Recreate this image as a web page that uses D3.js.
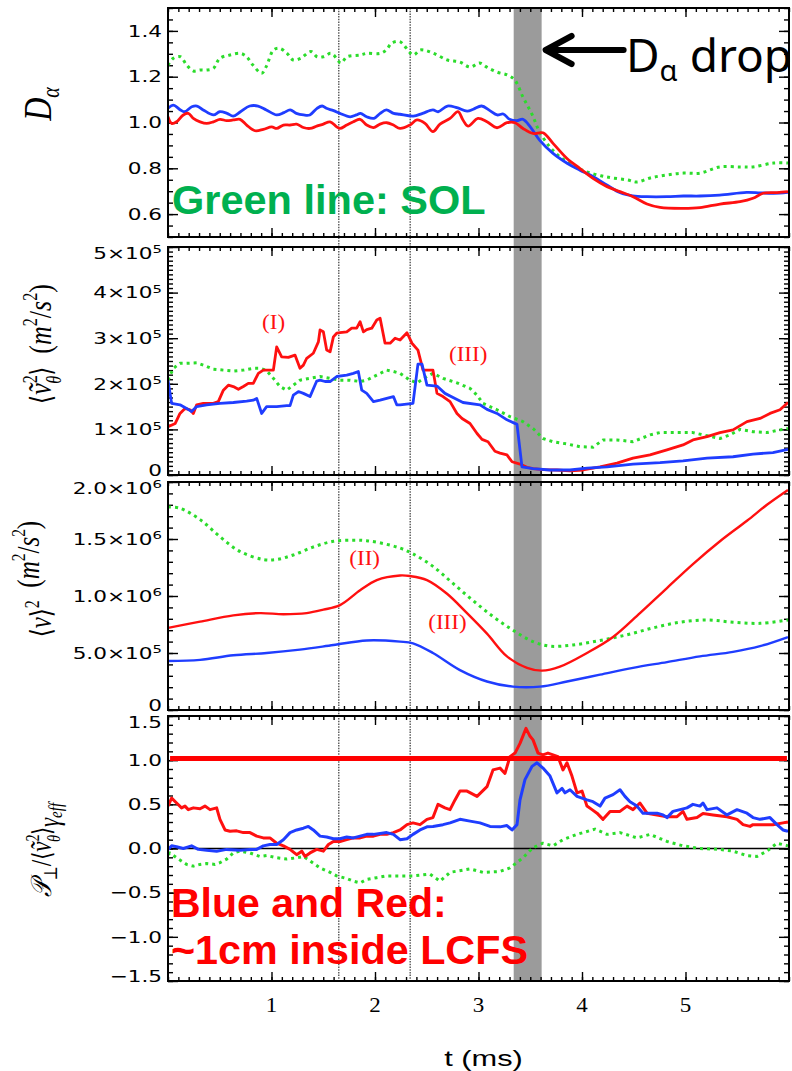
<!DOCTYPE html>
<html>
<head>
<meta charset="utf-8">
<script src="https://cdn.jsdelivr.net/npm/d3@7"></script>
<style>
  body { margin: 0; background: #fff; }
  svg { display: block; }
</style>
</head>
<body>
<svg id="chart" width="792" height="1071"></svg>
<script>
// ---------- time axis ----------
const xTickLabels = [1, 2, 3, 4, 5];
const markerTimes = [1.65, 2.34];      // dotted vertical guides (ms)
const dropBand = [3.34, 3.61];         // D-alpha drop interval (ms)

// ---------- panel 1: D_alpha ----------
const daTicks = [0.6, 0.8, 1.0, 1.2, 1.4];
const daGreen = [[0,1.25],[0.05,1.28],[0.12,1.287],[0.18,1.251],[0.245,1.225],[0.31,1.229],[0.37,1.229],[0.44,1.237],[0.50,1.28],[0.60,1.295],[0.70,1.302],[0.76,1.287],[0.82,1.251],[0.905,1.215],[0.95,1.245],[1.02,1.317],[1.08,1.324],[1.15,1.302],[1.21,1.273],[1.28,1.28],[1.38,1.31],[1.44,1.287],[1.50,1.287],[1.57,1.302],[1.60,1.295],[1.67,1.26],[1.73,1.287],[1.86,1.295],[1.92,1.302],[2.05,1.302],[2.11,1.317],[2.16,1.346],[2.24,1.353],[2.37,1.295],[2.44,1.317],[2.56,1.303],[2.70,1.273],[2.82,1.264],[2.92,1.242],[3.01,1.26],[3.08,1.242],[3.18,1.22],[3.28,1.207],[3.35,1.186],[3.43,1.111],[3.52,1.033],[3.59,0.959],[3.69,0.893],[3.79,0.849],[3.91,0.814],[4.05,0.784],[4.24,0.762],[4.44,0.749],[4.53,0.74],[4.66,0.758],[4.82,0.771],[4.98,0.779],[5.14,0.779],[5.33,0.806],[5.53,0.806],[5.65,0.806],[5.85,0.823],[5.99,0.823]];
const daBlue = [[0,1.062],[0.05,1.076],[0.12,1.055],[0.16,1.047],[0.23,1.069],[0.28,1.072],[0.34,1.055],[0.44,1.033],[0.50,1.047],[0.57,1.04],[0.63,1.028],[0.70,1.047],[0.79,1.072],[0.87,1.072],[0.95,1.055],[1.05,1.033],[1.12,1.043],[1.18,1.055],[1.24,1.04],[1.31,1.033],[1.37,1.033],[1.44,1.062],[1.49,1.072],[1.53,1.062],[1.60,1.052],[1.66,1.04],[1.76,1.025],[1.82,1.033],[1.86,1.04],[1.92,1.025],[1.99,1.018],[2.05,1.04],[2.11,1.055],[2.18,1.04],[2.24,1.036],[2.37,1.028],[2.46,1.04],[2.56,1.055],[2.61,1.047],[2.70,1.072],[2.79,1.065],[2.89,1.05],[2.95,1.058],[3.03,1.072],[3.11,1.052],[3.18,1.033],[3.24,1.037],[3.30,1.014],[3.37,1.008],[3.43,1.014],[3.50,0.981],[3.59,0.923],[3.72,0.865],[3.86,0.821],[3.98,0.792],[4.11,0.763],[4.24,0.727],[4.37,0.693],[4.49,0.68],[4.63,0.676],[4.82,0.676],[4.98,0.679],[5.14,0.679],[5.33,0.683],[5.59,0.695],[5.72,0.693],[5.85,0.691],[5.99,0.695]];
const daRed = [[0,1.025],[0.035,0.996],[0.083,1.003],[0.148,1.033],[0.196,1.04],[0.245,1.018],[0.31,1.003],[0.374,0.996],[0.438,1.003],[0.502,1.014],[0.567,1.008],[0.631,1.011],[0.696,1.014],[0.76,0.989],[0.841,0.964],[0.921,0.97],[1.002,0.981],[1.05,0.974],[1.115,0.989],[1.179,0.989],[1.243,0.993],[1.308,0.978],[1.372,0.974],[1.437,0.984],[1.501,0.993],[1.566,1.003],[1.63,0.981],[1.662,0.974],[1.727,0.989],[1.791,1.003],[1.856,1.014],[1.92,0.989],[1.985,0.978],[2.049,0.993],[2.113,0.999],[2.178,0.989],[2.242,0.974],[2.338,0.989],[2.406,1.011],[2.483,0.996],[2.56,0.96],[2.628,0.993],[2.725,1.018],[2.802,1.047],[2.85,1.011],[2.899,0.984],[2.995,1.018],[3.082,1.003],[3.179,0.977],[3.275,0.999],[3.353,0.999],[3.43,0.974],[3.527,0.952],[3.623,0.955],[3.72,0.909],[3.855,0.843],[3.981,0.799],[4.106,0.756],[4.242,0.72],[4.367,0.698],[4.493,0.676],[4.628,0.644],[4.754,0.629],[4.976,0.625],[5.14,0.628],[5.333,0.644],[5.527,0.654],[5.652,0.669],[5.749,0.691],[5.884,0.694],[5.99,0.698]];

// ---------- panel 2: <v_theta~^2>, in units of 1e5 m^2/s^2 ----------
const vtTicks = [0, 1, 2, 3, 4, 5];
const vtRed = [[0,1.06],[0.07,1.13],[0.116,1.35],[0.164,1.46],[0.213,1.43],[0.245,1.35],[0.277,1.54],[0.341,1.57],[0.438,1.57],[0.486,1.61],[0.535,1.86],[0.583,1.97],[0.631,1.94],[0.68,1.88],[0.728,1.94],[0.776,2.01],[0.824,2.01],[0.873,2.23],[0.921,2.30],[0.985,2.30],[1.018,2.30],[1.05,2.81],[1.098,2.59],[1.163,2.58],[1.227,2.63],[1.275,2.34],[1.308,2.41],[1.34,2.56],[1.404,2.67],[1.453,2.92],[1.469,3.18],[1.501,3.14],[1.533,2.74],[1.566,2.70],[1.598,3.03],[1.63,3.11],[1.662,3.12],[1.727,3.14],[1.775,3.22],[1.823,3.22],[1.856,3.36],[1.888,3.14],[1.92,3.19],[1.969,3.22],[2.017,3.40],[2.049,3.44],[2.097,2.89],[2.146,2.89],[2.194,3.0],[2.242,2.96],[2.309,3.12],[2.357,2.89],[2.415,2.74],[2.464,2.30],[2.56,2.30],[2.599,1.79],[2.657,1.72],[2.725,1.61],[2.792,1.35],[2.841,1.24],[2.918,1.13],[2.986,0.91],[3.034,0.78],[3.092,0.73],[3.159,0.52],[3.208,0.48],[3.275,0.44],[3.324,0.29],[3.401,0.24],[3.469,0.17],[3.527,0.14],[3.623,0.12],[3.758,0.11],[3.884,0.09],[4.01,0.11],[4.174,0.18],[4.338,0.26],[4.493,0.37],[4.657,0.44],[4.821,0.55],[4.976,0.66],[5.072,0.77],[5.208,0.84],[5.333,0.93],[5.459,0.99],[5.594,1.17],[5.72,1.24],[5.816,1.35],[5.913,1.43],[5.99,1.59]];
const vtBlue = [[0,2.08],[0.035,1.57],[0.116,1.54],[0.18,1.46],[0.228,1.39],[0.277,1.50],[0.374,1.54],[0.502,1.57],[0.631,1.59],[0.76,1.62],[0.824,1.64],[0.857,1.68],[0.905,1.35],[0.953,1.50],[1.05,1.50],[1.147,1.52],[1.179,1.52],[1.211,1.75],[1.26,1.83],[1.308,1.79],[1.372,1.72],[1.437,2.06],[1.469,2.08],[1.517,2.05],[1.566,2.05],[1.63,2.16],[1.727,2.19],[1.791,2.23],[1.839,2.27],[1.872,1.86],[1.92,1.79],[1.985,1.61],[2.049,1.64],[2.113,1.68],[2.178,1.72],[2.21,1.54],[2.242,1.54],[2.367,1.57],[2.415,2.43],[2.454,2.43],[2.502,1.97],[2.599,1.95],[2.676,1.79],[2.773,1.68],[2.85,1.59],[3.014,1.54],[3.082,1.44],[3.179,1.35],[3.275,1.21],[3.372,1.11],[3.42,0.18],[3.527,0.14],[3.691,0.11],[3.884,0.11],[4.048,0.15],[4.242,0.18],[4.493,0.24],[4.754,0.27],[4.976,0.31],[5.208,0.37],[5.459,0.40],[5.652,0.46],[5.845,0.49],[5.99,0.56]];
const vtGreen = [[0,2.08],[0.051,2.34],[0.116,2.45],[0.18,2.45],[0.277,2.46],[0.341,2.41],[0.438,2.32],[0.535,2.30],[0.631,2.28],[0.728,2.30],[0.824,2.34],[0.889,2.34],[0.953,2.29],[1.018,2.12],[1.082,1.94],[1.147,1.86],[1.211,1.97],[1.275,2.08],[1.372,2.12],[1.469,2.16],[1.566,2.12],[1.662,2.08],[1.759,2.08],[1.856,2.05],[1.92,2.08],[2.017,2.19],[2.113,2.30],[2.178,2.27],[2.242,2.23],[2.338,2.08],[2.406,2.02],[2.502,2.16],[2.56,2.23],[2.657,2.12],[2.792,2.02],[2.918,1.90],[2.986,1.75],[3.043,1.57],[3.179,1.43],[3.304,1.28],[3.43,1.17],[3.527,1.02],[3.623,0.80],[3.72,0.73],[3.855,0.68],[3.981,0.62],[4.106,0.61],[4.203,0.77],[4.338,0.77],[4.493,0.73],[4.657,0.88],[4.754,0.93],[4.976,0.93],[5.072,0.93],[5.208,0.86],[5.333,0.80],[5.43,0.88],[5.527,1.0],[5.652,0.95],[5.787,0.93],[5.913,0.99],[5.99,1.02]];

// ---------- panel 3: <v>^2, in units of 1e6 m^2/s^2 ----------
const v2Ticks = [0, 0.5, 1.0, 1.5, 2.0];
const v2TickLabels = ["0", "5.0×10|5", "1.0×10|6", "1.5×10|6", "2.0×10|6"];
const v2Green = [[0,1.78],[0.116,1.77],[0.31,1.67],[0.502,1.52],[0.696,1.39],[0.921,1.32],[1.05,1.32],[1.211,1.36],[1.404,1.43],[1.598,1.48],[1.791,1.49],[1.92,1.485],[2.081,1.46],[2.242,1.42],[2.367,1.37],[2.56,1.26],[2.754,1.11],[2.947,0.96],[3.14,0.82],[3.333,0.70],[3.527,0.60],[3.691,0.56],[3.913,0.57],[4.174,0.61],[4.435,0.66],[4.686,0.72],[4.947,0.77],[5.208,0.79],[5.459,0.77],[5.72,0.76],[5.99,0.79]];
const v2Red = [[0,0.72],[0.31,0.775],[0.631,0.83],[0.889,0.85],[1.115,0.84],[1.34,0.85],[1.501,0.88],[1.662,0.92],[1.856,1.05],[2.017,1.14],[2.242,1.18],[2.338,1.175],[2.502,1.14],[2.696,1.02],[2.889,0.85],[3.082,0.67],[3.275,0.47],[3.469,0.37],[3.614,0.345],[3.787,0.38],[4.048,0.50],[4.3,0.64],[4.56,0.85],[4.821,1.07],[5.072,1.28],[5.333,1.48],[5.594,1.66],[5.787,1.80],[5.99,1.93]];
const v2Blue = [[0,0.43],[0.31,0.44],[0.631,0.48],[0.953,0.50],[1.275,0.53],[1.598,0.57],[1.92,0.61],[2.242,0.60],[2.367,0.585],[2.56,0.50],[2.821,0.35],[3.082,0.25],[3.333,0.205],[3.594,0.205],[3.855,0.25],[4.174,0.31],[4.493,0.37],[4.821,0.42],[5.14,0.47],[5.459,0.51],[5.72,0.56],[5.99,0.64]];

// ---------- panel 4: P_perp / (<v_theta~^2> gamma_eff) ----------
const ppTicks = [-1.5, -1.0, -0.5, 0.0, 0.5, 1.0, 1.5];
const ppThreshold = 1.02;
const ppRed = [[0,0.48],[0.035,0.57],[0.083,0.515],[0.131,0.46],[0.164,0.48],[0.196,0.44],[0.245,0.46],[0.31,0.45],[0.357,0.48],[0.406,0.44],[0.47,0.46],[0.502,0.33],[0.551,0.21],[0.599,0.195],[0.663,0.20],[0.728,0.18],[0.792,0.18],[0.857,0.14],[0.921,0.12],[0.985,0.12],[1.05,0.06],[1.115,0.03],[1.179,-0.01],[1.243,-0.07],[1.292,-0.03],[1.324,-0.09],[1.372,-0.05],[1.437,-0.01],[1.501,-0.03],[1.55,0.045],[1.598,0.08],[1.662,0.08],[1.727,0.10],[1.791,0.12],[1.856,0.12],[1.92,0.14],[1.985,0.14],[2.049,0.16],[2.113,0.16],[2.178,0.18],[2.242,0.21],[2.309,0.27],[2.367,0.29],[2.435,0.27],[2.502,0.33],[2.56,0.35],[2.609,0.50],[2.676,0.46],[2.725,0.44],[2.773,0.55],[2.821,0.65],[2.889,0.65],[2.986,0.59],[3.082,0.70],[3.14,0.89],[3.208,0.91],[3.256,0.85],[3.304,1.04],[3.353,1.08],[3.401,1.19],[3.459,1.36],[3.498,1.27],[3.527,1.23],[3.575,1.08],[3.623,1.06],[3.671,1.08],[3.72,1.06],[3.768,1.04],[3.816,0.89],[3.855,0.97],[3.903,0.82],[3.952,0.63],[4.0,0.65],[4.048,0.48],[4.097,0.44],[4.145,0.40],[4.203,0.33],[4.271,0.42],[4.367,0.42],[4.435,0.48],[4.493,0.44],[4.56,0.515],[4.628,0.40],[4.725,0.38],[4.821,0.36],[4.918,0.36],[4.976,0.42],[5.014,0.33],[5.111,0.35],[5.169,0.395],[5.266,0.38],[5.401,0.36],[5.498,0.33],[5.556,0.27],[5.623,0.25],[5.652,0.27],[5.749,0.27],[5.845,0.27],[5.942,0.29],[5.99,0.30]];
const ppBlue = [[0,-0.01],[0.035,0.03],[0.083,0.02],[0.148,0],[0.228,0.03],[0.293,-0.01],[0.374,-0.02],[0.47,-0.03],[0.567,-0.01],[0.696,-0.02],[0.792,-0.01],[0.857,-0.01],[0.921,0.03],[0.985,0.045],[1.05,0.045],[1.115,0.10],[1.179,0.18],[1.243,0.21],[1.308,0.23],[1.356,0.25],[1.404,0.21],[1.469,0.14],[1.533,0.13],[1.598,0.11],[1.662,0.11],[1.727,0.13],[1.791,0.12],[1.856,0.14],[1.92,0.16],[1.985,0.16],[2.049,0.17],[2.113,0.18],[2.178,0.16],[2.242,0.10],[2.309,0.11],[2.367,0.16],[2.435,0.21],[2.502,0.245],[2.56,0.25],[2.657,0.27],[2.725,0.29],[2.821,0.33],[2.918,0.31],[3.014,0.29],[3.111,0.25],[3.208,0.245],[3.275,0.26],[3.324,0.21],[3.372,0.27],[3.401,0.55],[3.449,0.78],[3.517,0.93],[3.565,0.97],[3.623,0.91],[3.691,0.82],[3.758,0.63],[3.807,0.68],[3.836,0.63],[3.884,0.665],[3.952,0.59],[4.048,0.55],[4.106,0.53],[4.174,0.48],[4.222,0.57],[4.3,0.61],[4.367,0.665],[4.415,0.59],[4.464,0.53],[4.531,0.48],[4.589,0.40],[4.725,0.40],[4.783,0.38],[4.821,0.35],[4.879,0.42],[4.947,0.44],[5.014,0.46],[5.072,0.50],[5.14,0.48],[5.169,0.515],[5.208,0.44],[5.304,0.46],[5.401,0.38],[5.498,0.44],[5.594,0.40],[5.652,0.35],[5.72,0.33],[5.816,0.35],[5.884,0.27],[5.942,0.21],[5.99,0.195]];
const ppGreen = [[0,-0.07],[0.018,-0.05],[0.083,-0.105],[0.18,-0.18],[0.245,-0.20],[0.31,-0.18],[0.374,-0.17],[0.454,-0.18],[0.502,-0.16],[0.567,-0.12],[0.631,-0.05],[0.696,-0.03],[0.792,-0.05],[0.889,-0.09],[0.953,-0.08],[1.05,-0.105],[1.147,-0.12],[1.243,-0.105],[1.308,-0.09],[1.372,-0.14],[1.469,-0.22],[1.566,-0.27],[1.63,-0.31],[1.727,-0.34],[1.791,-0.37],[1.856,-0.39],[1.92,-0.35],[2.017,-0.33],[2.113,-0.31],[2.242,-0.31],[2.367,-0.31],[2.531,-0.29],[2.628,-0.37],[2.725,-0.27],[2.918,-0.23],[3.043,-0.27],[3.208,-0.26],[3.304,-0.22],[3.43,-0.105],[3.527,0.01],[3.623,0.06],[3.72,0.03],[3.816,0.10],[3.952,0.16],[4.126,0.22],[4.242,0.16],[4.367,0.18],[4.531,0.12],[4.657,0.16],[4.821,0.08],[4.976,0.03],[5.14,0.0],[5.333,-0.01],[5.459,-0.03],[5.594,-0.08],[5.691,-0.09],[5.787,-0.03],[5.884,0.06],[5.99,0.03]];

// ---------- drawing ----------
const RED = "#ff1010", BLUE = "#1f3dff", GREEN = "#2bdc2b";
const svg = d3.select("#chart");
const x = d3.scaleLinear().domain([0, 6]).range([168, 789]);
const XL = x.range()[0], XR = x.range()[1];
const SX = 1.35;                      // horizontal stretch of the axis lettering

const panels = [
  { top: 8,   bottom: 237, domain: [0.5, 1.5], ticks: daTicks, minor: 0.05,
    labels: daTicks.map(d => d.toFixed(1)),
    series: [[daGreen, GREEN, true], [daBlue, BLUE], [daRed, RED]], curve: d3.curveCatmullRom, width: 2.8 },
  { top: 247, bottom: 475, domain: [0, 5], ticks: vtTicks, minor: 0.1,
    labels: vtTicks.map(d => d === 0 ? "0" : d + "×10|5"),
    series: [[vtGreen, GREEN, true], [vtRed, RED], [vtBlue, BLUE]], curve: d3.curveLinear, width: 2.8 },
  { top: 482, bottom: 710, domain: [0, 2], ticks: v2Ticks, minor: 0.1,
    labels: v2TickLabels,
    series: [[v2Green, GREEN, true], [v2Red, RED], [v2Blue, BLUE]], curve: d3.curveCatmullRom, width: 2.4 },
  { top: 716, bottom: 981, domain: [-1.5, 1.5], ticks: ppTicks, minor: 0.1,
    labels: ppTicks.map(d => (d < 0 ? "\u2212" + Math.abs(d).toFixed(1) : d.toFixed(1))),
    series: [[ppGreen, GREEN, true], [ppRed, RED], [ppBlue, BLUE]], curve: d3.curveLinear, width: 3 }
];
panels.forEach(p => { p.y = d3.scaleLinear().domain(p.domain).range([p.bottom, p.top]); });

// drop interval band and dotted time guides (behind everything)
svg.append("rect")
  .attr("x", x(dropBand[0])).attr("width", x(dropBand[1]) - x(dropBand[0]))
  .attr("y", panels[0].top).attr("height", panels[3].bottom - panels[0].top)
  .attr("fill", "#9b9b9b");
svg.selectAll("line.guide").data(markerTimes).join("line")
  .attr("class", "guide")
  .attr("x1", d => x(d)).attr("x2", d => x(d))
  .attr("y1", panels[0].top).attr("y2", panels[3].bottom)
  .attr("stroke", "#555").attr("stroke-width", 1.4).attr("stroke-dasharray", "1.5,1.2");

const xMinor = d3.range(0, 6.001, 0.1).map(v => +v.toFixed(2));

panels.forEach((p, i) => {
  const g = svg.append("g");
  const clipId = "clip" + i;
  svg.append("clipPath").attr("id", clipId).append("rect")
    .attr("x", XL).attr("y", p.top).attr("width", XR - XL).attr("height", p.bottom - p.top);

  // ticks on all four sides, pointing inward
  const yMinor = d3.range(p.domain[0], p.domain[1] + 1e-9, p.minor).map(v => +v.toFixed(3));
  const tickStyle = sel => { sel.select(".domain").remove(); sel.selectAll("line").attr("stroke", "#000").attr("stroke-width", 1.4); };
  g.append("g").attr("transform", `translate(${XL},0)`).call(d3.axisLeft(p.y).tickValues(yMinor).tickSize(-5).tickFormat("")).call(tickStyle);
  g.append("g").attr("transform", `translate(${XL},0)`).call(d3.axisLeft(p.y).tickValues(p.ticks).tickSize(-10).tickFormat("")).call(tickStyle);
  g.append("g").attr("transform", `translate(${XR},0)`).call(d3.axisRight(p.y).tickValues(yMinor).tickSize(-5).tickFormat("")).call(tickStyle);
  g.append("g").attr("transform", `translate(${XR},0)`).call(d3.axisRight(p.y).tickValues(p.ticks).tickSize(-10).tickFormat("")).call(tickStyle);
  g.append("g").attr("transform", `translate(0,${p.bottom})`).call(d3.axisBottom(x).tickValues(xMinor).tickSize(-4).tickFormat("")).call(tickStyle);
  g.append("g").attr("transform", `translate(0,${p.bottom})`).call(d3.axisBottom(x).tickValues(xTickLabels).tickSize(-9).tickFormat("")).call(tickStyle);
  g.append("g").attr("transform", `translate(0,${p.top})`).call(d3.axisTop(x).tickValues(xMinor).tickSize(-4).tickFormat("")).call(tickStyle);
  g.append("g").attr("transform", `translate(0,${p.top})`).call(d3.axisTop(x).tickValues(xTickLabels).tickSize(-9).tickFormat("")).call(tickStyle);

  // y tick labels; end labels are nudged inside the frame
  p.ticks.forEach((v, k) => {
    let yy = p.y(v);
    if (Math.abs(yy - p.top) < 2) yy += 6;
    if (Math.abs(yy - p.bottom) < 2) yy -= 5;
    const parts = p.labels[k].split("|");
    const t = svg.append("text")
      .attr("transform", `translate(${XL - 6},${yy}) scale(${SX},1)`)
      .attr("text-anchor", "end").attr("dy", "0.36em")
      .attr("font-family", "DejaVu Sans").attr("font-size", 16).attr("fill", "#000");
    t.append("tspan").text(parts[0]);
    if (parts[1]) t.append("tspan").attr("dy", "-0.5em").attr("font-size", 11).text(parts[1]);
  });

  // zero reference in the last panel
  if (i === 3) {
    g.append("line").attr("x1", XL).attr("x2", XR).attr("y1", p.y(0)).attr("y2", p.y(0))
      .attr("stroke", "#000").attr("stroke-width", 1.6);
  }

  const lines = g.append("g").attr("clip-path", `url(#${clipId})`);
  const line = d3.line().x(d => x(d[0])).y(d => p.y(d[1])).curve(p.curve);
  p.series.forEach(([data, color, dotted]) => {
    lines.append("path").datum(data).attr("d", line)
      .attr("fill", "none").attr("stroke", color)
      .attr("stroke-width", dotted ? 3 : p.width)
      .attr("stroke-dasharray", dotted ? "3,4" : null)
      .attr("stroke-linejoin", "round");
  });
  if (i === 3) {
    lines.append("line").datum(ppThreshold)
      .attr("x1", x(0.02)).attr("x2", x(5.98)).attr("y1", d => p.y(d)).attr("y2", d => p.y(d))
      .attr("stroke", "#ff0000").attr("stroke-width", 5);
  }

  // frame
  g.append("rect").attr("x", XL).attr("y", p.top).attr("width", XR - XL).attr("height", p.bottom - p.top)
    .attr("fill", "none").attr("stroke", "#000").attr("stroke-width", 2);
});

// x tick labels and title
const pB = panels[3];
svg.selectAll("text.xt").data(xTickLabels).join("text")
  .attr("class", "xt")
  .attr("transform", d => `translate(${x(d)},${pB.bottom + 31}) scale(1.15,1)`)
  .attr("text-anchor", "middle").attr("font-family", "Liberation Serif").attr("font-size", 20)
  .text(d => d);
svg.append("text")
  .attr("transform", `translate(${x(3) + 5},1066) scale(1.4,1)`)
  .attr("text-anchor", "middle").attr("font-family", "Liberation Sans").attr("font-size", 22)
  .text("t (ms)");

// y-axis titles
function yTitle(cy, size, build) {
  const t = svg.append("text")
    .attr("transform", `translate(51,${cy}) scale(1.25,1) rotate(-90)`)
    .attr("text-anchor", "middle")
    .attr("font-family", "Liberation Serif, DejaVu Serif").attr("font-size", size).attr("fill", "#000");
  build(t);
}
yTitle(104, 32, t => {
  t.append("tspan").attr("font-style", "italic").text("D");
  t.append("tspan").attr("font-style", "italic").attr("font-size", 20).attr("dy", 6).text("α");
});
function vTheta(t, s) {
  t.append("tspan").attr("font-family", "DejaVu Serif").attr("font-size", s * 0.9).text("⟨");
  t.append("tspan").attr("font-style", "italic").text("v\u0303");
  t.append("tspan").attr("font-size", s * 0.62).attr("dy", -s * 0.42).text("2");
  t.append("tspan").attr("font-style", "italic").attr("font-size", s * 0.62).attr("dx", -s * 0.33).attr("dy", s * 0.72).text("θ");
  t.append("tspan").attr("font-family", "DejaVu Serif").attr("font-size", s * 0.9).attr("dy", -s * 0.3).text("⟩");
}
function units(t, s) {
  t.append("tspan").text("\u2002(");
  t.append("tspan").attr("font-style", "italic").text("m");
  t.append("tspan").attr("font-size", s * 0.62).attr("dy", -s * 0.42).text("2");
  t.append("tspan").attr("dy", s * 0.42).text("/");
  t.append("tspan").attr("font-style", "italic").text("s");
  t.append("tspan").attr("font-size", s * 0.62).attr("dy", -s * 0.42).text("2");
  t.append("tspan").attr("dy", s * 0.42).text(")");
}
yTitle(344, 26, t => { vTheta(t, 26); units(t, 26); });
yTitle(579, 25, t => {
  t.append("tspan").attr("font-family", "DejaVu Serif").attr("font-size", 23).text("⟨");
  t.append("tspan").attr("font-style", "italic").text("v");
  t.append("tspan").attr("font-family", "DejaVu Serif").attr("font-size", 23).text("⟩");
  t.append("tspan").attr("font-size", 16).attr("dy", -10).text("2");
  t.append("tspan").attr("dy", 10).text("");
  units(t, 25);
});
yTitle(850, 23, t => {
  t.append("tspan").attr("font-family", "DejaVu Sans, DejaVu Serif").attr("font-style", "italic").text("𝒫");
  t.append("tspan").attr("font-size", 15).attr("dy", 5).text("⊥");
  t.append("tspan").attr("dy", -5).text("/");
  vTheta(t, 23);
  t.append("tspan").attr("font-style", "italic").attr("dy", 6).text("γ");
  t.append("tspan").attr("font-style", "italic").attr("font-size", 15).attr("dy", 3).text("eff");
});

// curve-phase markers
const phase = [
  { t: 1.02, y: panels[1].y(3.2), s: "(I)" },
  { t: 2.9,  y: panels[1].y(2.5), s: "(III)" },
  { t: 1.9,  y: panels[2].y(1.27), s: "(II)" },
  { t: 2.7,  y: panels[2].y(0.71), s: "(III)" }
];
svg.selectAll("text.phase").data(phase).join("text")
  .attr("class", "phase")
  .attr("transform", d => `translate(${x(d.t)},${d.y}) scale(1.15,1)`)
  .attr("text-anchor", "middle").attr("font-family", "Liberation Serif").attr("font-size", 20)
  .attr("fill", "#ff1010").text(d => d.s);

// annotations
svg.append("text").attr("x", 172).attr("y", 214)
  .attr("font-family", "Liberation Sans").attr("font-weight", 700).attr("font-size", 41.5)
  .attr("fill", "#00b04f").text("Green line: SOL");
svg.append("text").attr("x", 171).attr("y", 917)
  .attr("font-family", "Liberation Sans").attr("font-weight", 700).attr("font-size", 41)
  .attr("fill", "#ff0000").text("Blue and Red:");
svg.append("text").attr("x", 171).attr("y", 964)
  .attr("font-family", "Liberation Sans").attr("font-weight", 700).attr("font-size", 41)
  .attr("textLength", 357).attr("lengthAdjust", "spacingAndGlyphs")
  .attr("fill", "#ff0000").text("~1cm inside LCFS");

// D-alpha drop callout
const tipX = x(dropBand[1]) + 2, tipY = 50;
svg.append("path")
  .attr("d", `M${tipX + 28},${tipY - 14} L${tipX + 2},${tipY} L${tipX + 28},${tipY + 14} M${tipX + 4},${tipY} L${tipX + 80},${tipY}`)
  .attr("fill", "none").attr("stroke", "#000").attr("stroke-width", 6)
  .attr("stroke-linecap", "round").attr("stroke-linejoin", "round");
const dd = svg.append("text").attr("x", 626).attr("y", 72)
  .attr("font-family", "Noto Sans").attr("font-size", 46).attr("fill", "#000");
dd.append("tspan").text("D");
dd.append("tspan").attr("font-size", 29).attr("dy", 9).text("α");
dd.append("tspan").attr("dy", -9).text(" drop");
</script>
</body>
</html>
